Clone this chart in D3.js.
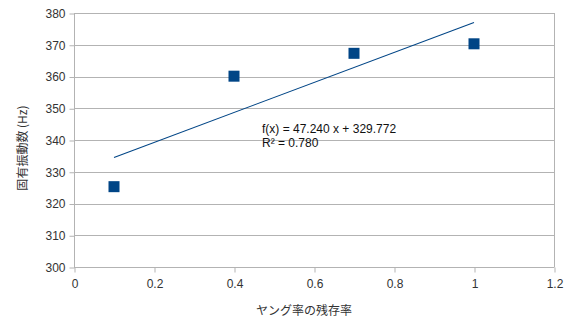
<!DOCTYPE html>
<html>
<head>
<meta charset="utf-8">
<script src="https://cdn.jsdelivr.net/npm/d3@7/dist/d3.min.js"></script>
<style>
  html, body { margin: 0; padding: 0; background: #fff; }
  svg { display: block; font-family: "Liberation Sans", Arial, sans-serif; }
</style>
</head>
<body>
<svg id="chart" width="575" height="326"></svg>
<script>
// Young's modulus retention ratio vs. natural frequency
const xValues = [0.1, 0.4, 0.7, 1.0];
const yValues = [325.3, 360.1, 367.3, 370.3];
const xTicks = [0, 0.2, 0.4, 0.6, 0.8, 1, 1.2];
const yTicks = [300, 310, 320, 330, 340, 350, 360, 370, 380];
const trendSlope = 47.240;
const trendIntercept = 329.772;
const trendR2 = 0.780;
const xTitle = "ヤング率の残存率";
const yTitle = "固有振動数 (Hz)";

(function () {
  const svg = d3.select("#chart");
  const plotLeft = 74, plotRight = 554, plotTop = 13, plotBottom = 267;

  const x = d3.scaleLinear().domain([0, 1.2]).range([plotLeft, plotRight]);
  const y = d3.scaleLinear().domain([300, 380]).range([plotBottom, plotTop]);

  const grid = "#b3b3b3";
  const textColor = "#333";
  const blue = "#004586";

  // horizontal gridlines
  svg.append("g").selectAll("line").data(yTicks).join("line")
    .attr("x1", plotLeft).attr("x2", plotRight)
    .attr("y1", d => Math.round(y(d)) + 0.5).attr("y2", d => Math.round(y(d)) + 0.5)
    .attr("stroke", grid).attr("stroke-width", 1);

  // plot frame (left/right)
  svg.append("line").attr("x1", plotLeft + 0.5).attr("x2", plotLeft + 0.5)
    .attr("y1", plotTop).attr("y2", plotBottom + 0.5).attr("stroke", grid);
  svg.append("line").attr("x1", plotRight + 0.5).attr("x2", plotRight + 0.5)
    .attr("y1", plotTop).attr("y2", plotBottom + 0.5).attr("stroke", grid);

  // axes
  const yAxis = d3.axisLeft(y).tickValues(yTicks).tickSize(5).tickPadding(4).tickFormat(d3.format("d"));
  const gy = svg.append("g").attr("transform", `translate(${plotLeft + 0.5},0.5)`).call(yAxis);
  const xAxis = d3.axisBottom(x).tickValues(xTicks).tickSize(5).tickPadding(7).tickFormat(d => String(d));
  const gx = svg.append("g").attr("transform", `translate(0.5,${plotBottom + 0.5})`).call(xAxis);

  [gy, gx].forEach(g => {
    g.select(".domain").remove();
    g.selectAll(".tick line").attr("stroke", grid);
    g.selectAll(".tick text").attr("fill", textColor)
      .style("font-size", "12px").style("font-family", "'Liberation Sans', Arial, sans-serif");
  });

  // linear trend line from the fitted equation
  const trendX = [d3.min(xValues), d3.max(xValues)];
  svg.append("path")
    .attr("d", d3.line().x(d => x(d)).y(d => y(trendSlope * d + trendIntercept))(trendX))
    .attr("stroke", blue).attr("stroke-width", 1.1).attr("fill", "none");

  // data points
  const pts = xValues.map((v, i) => ({ x: v, y: yValues[i] }));
  const s = 11;
  svg.append("g").selectAll("rect").data(pts).join("rect")
    .attr("x", d => x(d.x) - s / 2).attr("y", d => y(d.y) - s / 2)
    .attr("width", s).attr("height", s)
    .attr("fill", blue);

  // regression equation
  svg.append("text").attr("x", 262).attr("y", 133)
    .attr("fill", "#111").style("font-size", "12px")
    .text(`f(x) = ${trendSlope.toFixed(3)} x + ${trendIntercept.toFixed(3)}`);
  svg.append("text").attr("x", 262).attr("y", 147)
    .attr("fill", "#111").style("font-size", "12px")
    .text(`R² = ${trendR2.toFixed(3)}`);

  // axis titles
  svg.append("text").attr("x", 304).attr("y", 315)
    .attr("text-anchor", "middle").attr("fill", textColor)
    .style("font-size", "12px").style("font-family", "'Noto Sans CJK JP', sans-serif")
    .text(xTitle);
  svg.append("text")
    .attr("transform", `translate(27,148) rotate(-90)`)
    .attr("text-anchor", "middle").attr("fill", textColor)
    .style("font-size", "12px").style("font-family", "'Noto Sans CJK JP', sans-serif")
    .text(yTitle);
})();
</script>
</body>
</html>
